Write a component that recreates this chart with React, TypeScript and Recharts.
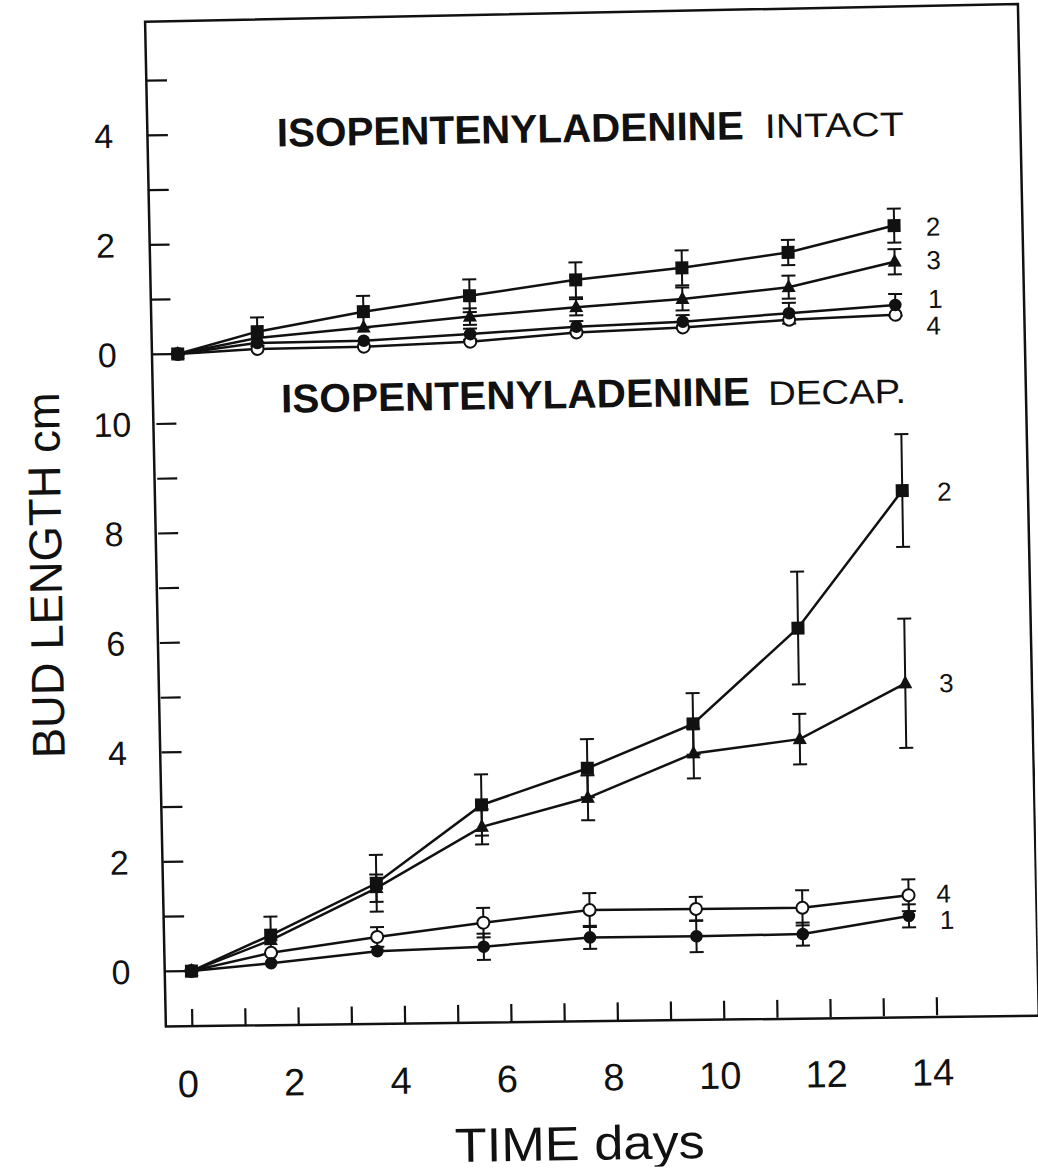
import React from "react";
import { LineChart, Line, XAxis, YAxis, ErrorBar } from "recharts";

// sampling days (x) and tick values
const days = [0, 1.5, 3.5, 5.5, 7.5, 9.5, 11.5, 13.5];
const xTicks = [0, 1, 2, 3, 4, 5, 6, 7, 8, 9, 10, 11, 12, 13, 14];
const topTicks = [0, 1, 2, 3, 4, 5];
const bottomTicks = [0, 1, 2, 3, 4, 5, 6, 7, 8, 9, 10];

// ISOPENTENYLADENINE INTACT (cm)
const intact1 = [0, 0.18, 0.19, 0.28, 0.385, 0.445, 0.57, 0.69];
const intact1Err = [null, null, null, 0.1, 0.1, 0.12, 0.19, 0.2];
const intact2 = [0, 0.385, 0.72, 0.98, 1.24, 1.43, 1.68, 2.14];
const intact2Err = [null, 0.26, 0.29, 0.3, 0.32, 0.32, 0.23, 0.31];
const intact3 = [0, 0.27, 0.43, 0.6, 0.74, 0.86, 1.045, 1.48];
const intact3Err = [null, null, null, 0.15, 0.15, 0.21, 0.21, 0.23];
const intact4 = [0, 0.07, 0.08, 0.14, 0.28, 0.34, 0.45, 0.51];
const intact4Err = [null, null, null, null, null, null, null, null];

// ISOPENTENYLADENINE DECAP. (cm)
const decap1 = [0, 0.12, 0.31, 0.36, 0.5, 0.49, 0.5, 0.8];
const decap1Err = [null, null, null, 0.24, 0.21, 0.29, 0.21, 0.21];
const decap2 = [0, 0.635, 1.55, 2.95, 3.59, 4.37, 6.09, 8.57];
const decap2Err = [null, 0.335, 0.52, 0.56, 0.53, 0.56, 1.03, 1.03];
const decap3 = [0, 0.54, 1.46, 2.55, 3.05, 3.83, 4.06, 5.05];
const decap3Err = [null, null, 0.25, 0.32, 0.41, 0.455, 0.46, 1.18];
const decap4 = [0, 0.31, 0.57, 0.8, 1.0, 0.99, 0.98, 1.18];
const decap4Err = [null, null, 0.18, 0.27, 0.31, 0.22, 0.32, 0.29];

const FONT = '"Liberation Sans", Arial, Helvetica, sans-serif';
const INK = "#111";

const X_DOMAIN: [number, number] = [-0.498, 15.893];

function buildRows(
  s1: number[], e1: (number | null)[],
  s2: number[], e2: (number | null)[],
  s3: number[], e3: (number | null)[],
  s4: number[], e4: (number | null)[]
) {
  return days.map((day, i) => ({
    day,
    s1: s1[i], e1: e1[i],
    s2: s2[i], e2: e2[i],
    s3: s3[i], e3: e3[i],
    s4: s4[i], e4: e4[i],
  }));
}

const topRows = buildRows(intact1, intact1Err, intact2, intact2Err, intact3, intact3Err, intact4, intact4Err);
const bottomRows = buildRows(decap1, decap1Err, decap2, decap2Err, decap3, decap3Err, decap4, decap4Err);

// markers
const squareDot = (p: any) => (
  <rect key={`sq-${p.index}`} x={p.cx - 6.5} y={p.cy - 6.5} width={13} height={13} fill={INK} />
);
const triDot = (p: any) => (
  <polygon
    key={`tr-${p.index}`}
    points={`${p.cx},${p.cy - 8} ${p.cx + 7},${p.cy + 5} ${p.cx - 7},${p.cy + 5}`}
    fill={INK}
  />
);
const filledDot = (p: any) => <circle key={`fc-${p.index}`} cx={p.cx} cy={p.cy} r={6.3} fill={INK} />;
const openDot = (p: any) => (
  <circle key={`oc-${p.index}`} cx={p.cx} cy={p.cy} r={6} fill="#fff" stroke={INK} strokeWidth={2} />
);

const endLabel = (text: string, dx: number, dy: number) => (p: any) => {
  if (p.index !== days.length - 1) return null;
  const x = p.x ?? p.viewBox?.x;
  const y = p.y ?? p.viewBox?.y;
  return (
    <text key={`lb-${text}`} x={x + dx} y={y + dy} dy={9} textAnchor="middle" fontSize={26} fontFamily={FONT} fill={INK}>
      {text}
    </text>
  );
};

const YTick = (props: any) => {
  const { x, y, payload } = props;
  const v = payload.value;
  return (
    <g>
      <line x1={x} x2={x + 20} y1={y} y2={y} stroke={INK} strokeWidth={2.2} />
      {v % 2 === 0 && (
        <text x={x - 44} y={y} dy={12} textAnchor="middle" fontSize={34} fontFamily={FONT} fill={INK}>
          {v}
        </text>
      )}
    </g>
  );
};

const XTick = (props: any) => {
  const { x, y, payload } = props;
  const v = payload.value;
  return (
    <g>
      <line x1={x} x2={x} y1={y} y2={y - 18} stroke={INK} strokeWidth={2.2} />
      {v % 2 === 0 && (
        <text x={x - 5} y={y + 70} textAnchor="middle" fontSize={38} fontFamily={FONT} fill={INK}>
          {v}
        </text>
      )}
    </g>
  );
};

type LabelPos = { s1: [number, number]; s2: [number, number]; s3: [number, number]; s4: [number, number] };

function Panel({
  rows, height, yDomain, yTicks, showX, labels,
}: {
  rows: any[]; height: number; yDomain: [number, number]; yTicks: number[]; showX: boolean; labels: LabelPos;
}) {
  const lineProps = { type: "linear" as const, stroke: INK, strokeWidth: 2.5, isAnimationActive: false };
  const eb = (key: string) => (
    <ErrorBar dataKey={key} width={7} strokeWidth={2} stroke={INK} direction="y" isAnimationActive={false} />
  );
  return (
    <LineChart width={1038} height={height} data={rows} margin={{ top: 0, right: 1, bottom: 0, left: 0 }}>
      <XAxis
        dataKey="day"
        type="number"
        domain={X_DOMAIN}
        allowDataOverflow
        ticks={xTicks}
        interval={0}
        axisLine={false}
        tickLine={false}
        tickSize={0}
        tickMargin={0}
        tick={<XTick />}
        height={90}
        hide={!showX}
      />
      <YAxis
        type="number"
        domain={yDomain}
        allowDataOverflow
        ticks={yTicks}
        interval={0}
        axisLine={false}
        tickLine={false}
        tickSize={0}
        tickMargin={0}
        tick={<YTick />}
        width={165}
      />
      <Line dataKey="s4" {...lineProps} dot={openDot} label={endLabel("4", labels.s4[0], labels.s4[1])}>
        {eb("e4")}
      </Line>
      <Line dataKey="s1" {...lineProps} dot={filledDot} label={endLabel("1", labels.s1[0], labels.s1[1])}>
        {eb("e1")}
      </Line>
      <Line dataKey="s3" {...lineProps} dot={triDot} label={endLabel("3", labels.s3[0], labels.s3[1])}>
        {eb("e3")}
      </Line>
      <Line dataKey="s2" {...lineProps} dot={squareDot} label={endLabel("2", labels.s2[0], labels.s2[1])}>
        {eb("e2")}
      </Line>
    </LineChart>
  );
}

export default function App() {
  return (
    <div style={{ position: "absolute", left: 0, top: 0, width: 1038, height: 1174, overflow: "hidden", background: "#fff" }}>
      <div
        style={{
          position: "absolute", left: 0, top: 0, width: 1038, height: 1174,
          transform: "rotate(-0.9deg)", transformOrigin: "195px 971px",
        }}
      >
        <div style={{ position: "absolute", left: -4, top: 20 }}>
          <Panel
            rows={topRows}
            height={370}
            yDomain={[-0.661, 6.097]}
            yTicks={topTicks}
            showX={false}
            labels={{ s2: [39, 1.6], s3: [39, -1], s1: [40, -5.5], s4: [38, 11.5] }}
          />
        </div>
        <div style={{ position: "absolute", left: 0, top: 390 }}>
          <Panel
            rows={bottomRows}
            height={727}
            yDomain={[-1.023, 10.611]}
            yTicks={bottomTicks}
            showX={true}
            labels={{ s2: [42, 1.7], s3: [41, 0.6], s4: [35, -1], s1: [38, 4.5] }}
          />
        </div>
        <svg width={1038} height={1174} style={{ position: "absolute", left: 0, top: 0, pointerEvents: "none" }}>
          <polygon points="160,21 1033,17 1038,1029 165,1026" fill="none" stroke={INK} strokeWidth={2.5} />
          <text
            x={68} y={573} transform="rotate(-90 68 573)" textAnchor="middle"
            fontSize={46} fontFamily={FONT} fill={INK} textLength={366} lengthAdjust="spacingAndGlyphs"
          >
            BUD LENGTH cm
          </text>
          <text
            x={577} y={1166} textAnchor="middle" fontSize={48} fontFamily={FONT} fill={INK}
            textLength={250} lengthAdjust="spacingAndGlyphs"
          >
            TIME days
          </text>
          <text x={290} y={148} fontSize={40} fontWeight="bold" fontFamily={FONT} fill={INK} textLength={467} lengthAdjust="spacingAndGlyphs">
            ISOPENTENYLADENINE
          </text>
          <text x={778} y={147} fontSize={34} fontFamily={FONT} fill={INK} textLength={139} lengthAdjust="spacingAndGlyphs">
            INTACT
          </text>
          <text x={290} y={414} fontSize={40} fontWeight="bold" fontFamily={FONT} fill={INK} textLength={469} lengthAdjust="spacingAndGlyphs">
            ISOPENTENYLADENINE
          </text>
          <text x={777} y={414} fontSize={34} fontFamily={FONT} fill={INK} textLength={138} lengthAdjust="spacingAndGlyphs">
            DECAP.
          </text>
        </svg>
      </div>
    </div>
  );
}
